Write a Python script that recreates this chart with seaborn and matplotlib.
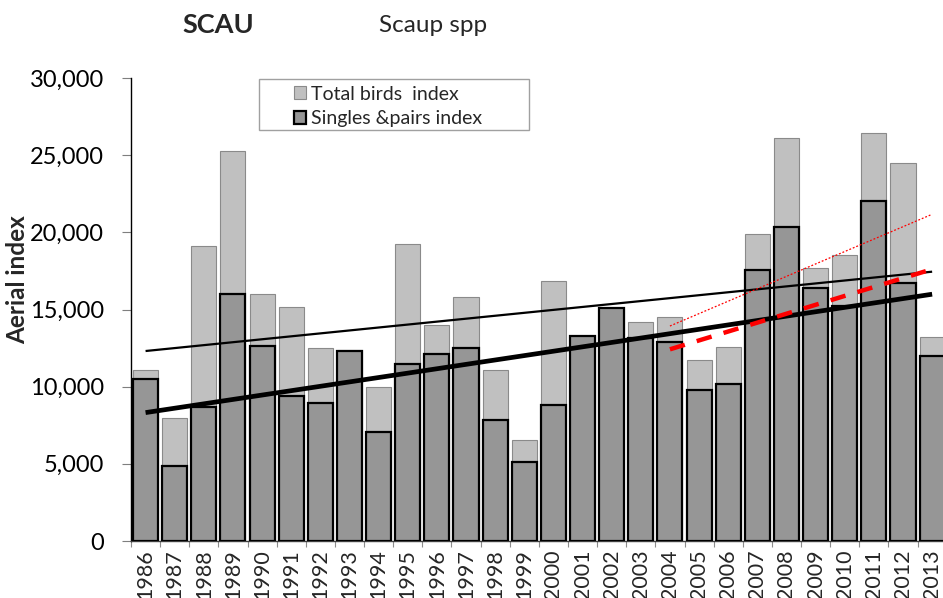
import numpy as np
import pandas as pd
import matplotlib
matplotlib.use("Agg")
import matplotlib.pyplot as plt
import matplotlib.ticker as mticker
from matplotlib.patches import Patch, Rectangle
import seaborn as sns

# ---- data ----
years = [str(y) for y in range(1986, 2014)]
total_index = [11050, 8000, 19100, 25250, 15980, 15160, 12500, 12350, 10000, 19250,
               14000, 15810, 11050, 6540, 16870, 13300, 15100, 14190, 14520, 11750,
               12590, 19880, 26140, 17670, 18520, 26420, 24520, 13240]
singles_pairs_index = [10480, 4880, 8700, 16010, 12660, 9400, 8920, 12330, 7090, 11490,
                       12140, 12530, 7860, 5140, 8790, 13290, 15100, 13180, 12900, 9790,
                       10200, 17540, 20330, 16380, 15250, 22030, 16740, 11970]

# trend lines (end values)
trend_long_years = ["1986", "2013"]
trend_long_total = [12310, 17450]
trend_long_singles = [8320, 15990]
trend_recent_years = ["2004", "2013"]
trend_recent_total = [13930, 21170]
trend_recent_singles = [12420, 17610]

legend_labels = ["Total birds  index", "Singles &pairs index"]
y_ticks = [0, 5000, 10000, 15000, 20000, 25000, 30000]

# ---- style ----
sns.set_style("ticks")
plt.rcParams["font.family"] = ["Lato", "DejaVu Sans"]

W, H = 943, 598
fig = plt.figure(figsize=(W / 100, H / 100), dpi=100)
ax = fig.add_axes([131 / W, (H - 541) / H, 815.7 / W, 463 / H])

df = pd.DataFrame({"year": years, "total": total_index, "singles": singles_pairs_index})

light = "#c0c0c0"
dark = "#969696"
sns.barplot(data=df, x="year", y="total", color=light, saturation=1, width=0.86,
            edgecolor="#8a8a8a", linewidth=0.8, ax=ax, zorder=2)
sns.barplot(data=df, x="year", y="singles", color=dark, saturation=1, width=0.86,
            edgecolor="black", linewidth=1.6, ax=ax, zorder=3)

pos = {y: i for i, y in enumerate(years)}
ax.plot([pos[y] for y in trend_long_years], trend_long_total, color="black", lw=1.6,
        zorder=5, solid_capstyle="butt")
ax.plot([pos[y] for y in trend_long_years], trend_long_singles, color="black", lw=3.4,
        zorder=5, solid_capstyle="butt")
ax.plot([pos[y] for y in trend_recent_years], trend_recent_total, color="red", lw=0.9,
        ls=(0, (1.5, 1.5)), zorder=6)
ax.plot([pos[y] for y in trend_recent_years], trend_recent_singles, color="red", lw=3.2,
        ls=(0, (3.5, 2.8)), zorder=6)

ax.set_xlim(-0.5, len(years) - 0.5)
ax.set_ylim(0, 30000)
ax.set_yticks(y_ticks)
ax.yaxis.set_major_formatter(mticker.FuncFormatter(lambda v, p: f"{int(v):,}"))
ax.tick_params(axis="y", length=6.5, width=0.8, color="#7f7f7f", pad=13, labelsize=17,
               labelcolor="black")
ax.set_xticks(range(len(years)))
ax.set_xticklabels(years, rotation=90, fontsize=15.5)
ax.tick_params(axis="x", which="major", length=0, pad=6)
ax.set_xticks(np.arange(-0.5, len(years), 1), minor=True)
ax.tick_params(axis="x", which="minor", length=4.5, width=0.8, color="#8c8c8c")
ax.set_xlabel("")
ax.set_ylabel("")
sns.despine(ax=ax, top=True, right=True)
ax.spines["left"].set_color("black")
ax.spines["left"].set_linewidth(1.0)
ax.spines["bottom"].set_color("#404040")
ax.spines["bottom"].set_linewidth(1.0)

# titles
fig.text(218 / W, 1 - 25 / H, "SCAU", fontsize=19.5, fontweight="bold", ha="center", va="center")
fig.text(433 / W, 1 - 25 / H, "Scaup spp", fontsize=17.5, ha="center", va="center")
fig.text(18 / W, 1 - 280 / H, "Aerial index", fontsize=17.5, fontweight="bold",
         rotation=90, ha="center", va="center")

# legend
fig.patches.append(Rectangle((259 / W, 1 - 130 / H), 270 / W, 51 / H,
                             transform=fig.transFigure, facecolor="white",
                             edgecolor="#a0a0a0", lw=1.0, zorder=10))
handles = [Patch(facecolor=light, edgecolor="#8a8a8a", lw=0.8),
           Patch(facecolor=dark, edgecolor="black", lw=1.6)]
leg = fig.legend(handles, legend_labels, loc="upper left",
                 bbox_to_anchor=(280 / W, 1 - 72 / H), frameon=False, fontsize=14,
                 handlelength=0.65, handleheight=0.65, handletextpad=0.25,
                 labelspacing=0.4, borderpad=0.2)
leg.set_zorder(11)

fig.savefig("out.png", dpi=100)
